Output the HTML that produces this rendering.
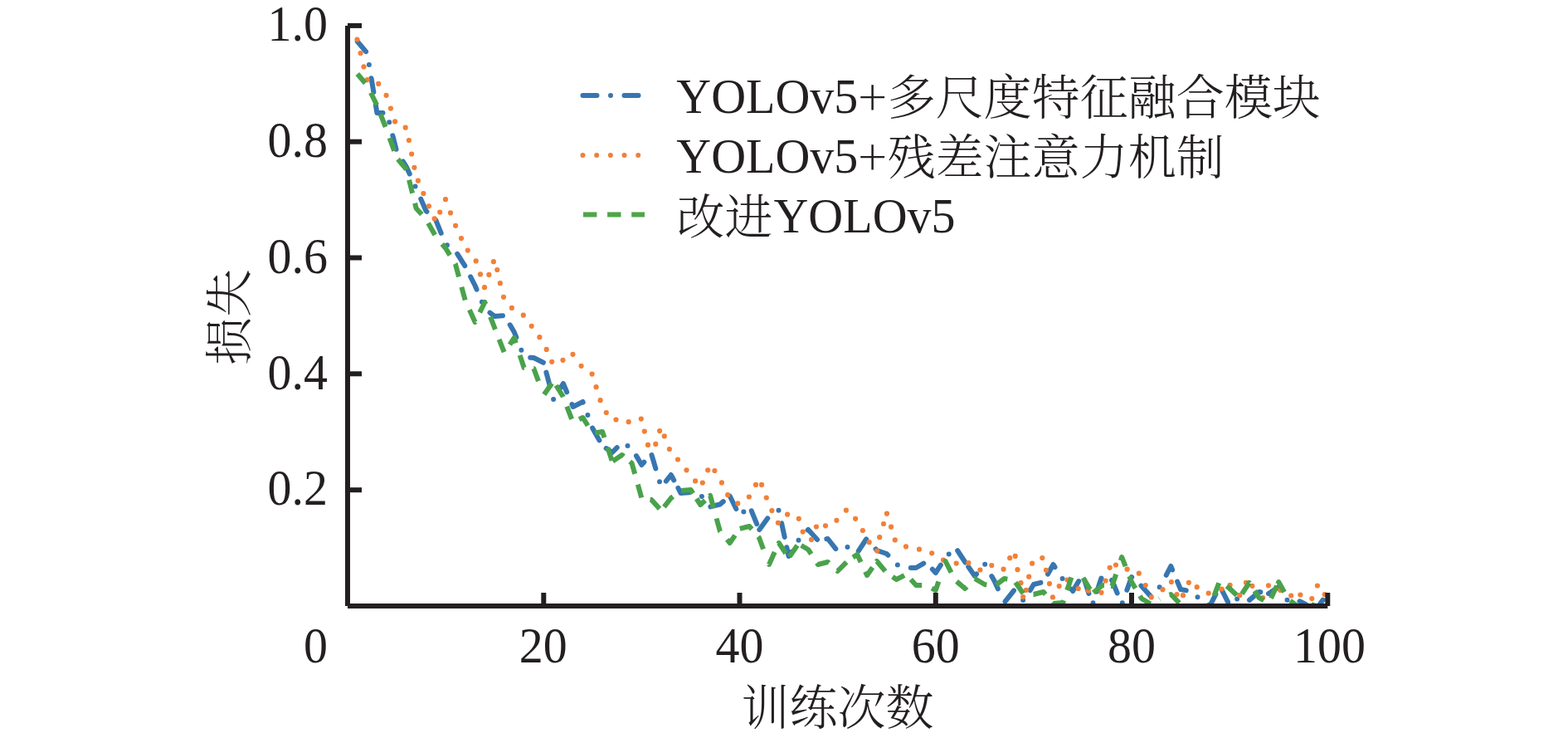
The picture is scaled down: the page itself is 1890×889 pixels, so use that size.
<!DOCTYPE html>
<html><head><meta charset="utf-8"><title>loss</title>
<style>
html,body{margin:0;padding:0;background:#fff;}
body{width:1890px;height:889px;overflow:hidden;}
svg{display:block;}
.t{font-family:"Liberation Serif","Noto Serif CJK SC",serif;font-size:58px;fill:#231f20;}
.c{font-family:"Liberation Serif","Noto Serif CJK SC",serif;font-weight:300;font-size:58px;fill:#231f20;}
.p{font-family:"Noto Serif CJK SC",serif;font-weight:300;font-size:58px;fill:#231f20;}
</style></head>
<body>
<svg width="1890" height="889" viewBox="0 0 1890 889">
<defs><clipPath id="clip"><rect x="419" y="31" width="1181.3" height="699"/></clipPath></defs>
<rect width="1890" height="889" fill="#fff"/>
<!-- DATA -->
<g id="data" fill="none" stroke-width="6" stroke-linejoin="round" clip-path="url(#clip)">
<g stroke="#3776b0" stroke-dasharray="17 16.5 0 16.5 17 16.5" stroke-linecap="round">
<path d="M430.8 50.0 L442.6 64.0 L451.6 118.6" stroke-dashoffset="1.08"/>
<path d="M451.6 118.6 L454.4 136.0 L466.3 136.0 L478.1 182.0 L481.4 187.4" stroke-dashoffset="75.78"/>
<path d="M481.4 187.4 L489.9 201.0 L501.7 227.0 L513.5 254.0 L519.9 260.0" stroke-dashoffset="75.13"/>
<path d="M519.9 260.0 L525.3 265.0 L537.1 294.0 L548.9 302.0 L560.8 321.0 L563.8 326.8" stroke-dashoffset="76.11"/>
<path d="M563.8 326.8 L572.6 344.0 L584.4 372.0 L596.2 381.0 L608.0 380.0 L610.8 384.7" stroke-dashoffset="76.16"/>
<path d="M610.8 384.7 L619.8 400.0 L631.6 430.0 L643.4 431.0 L655.3 437.0 L656.8 442.6" stroke-dashoffset="75.83"/>
<path d="M656.8 442.6 L667.1 481.0 L678.9 462.0 L686.3 479.6" stroke-dashoffset="77.24"/>
<path d="M686.3 479.6 L690.7 490.0 L702.5 484.0 L714.3 516.0 L725.6 536.1" stroke-dashoffset="75.34"/>
<path d="M725.6 536.1 L726.1 537.0 L738.0 545.0 L749.8 533.0 L761.6 540.0 L773.4 560.0 L781.2 551.4" stroke-dashoffset="76.98"/>
<path d="M781.2 551.4 L785.2 547.0 L797.0 587.0 L808.8 572.0 L814.9 583.3" stroke-dashoffset="76.41"/>
<path d="M814.9 583.3 L820.6 594.0 L832.5 593.0 L844.3 596.0 L856.1 610.5 L867.9 607.5 L875.9 600.7" stroke-dashoffset="78.23"/>
<path d="M875.9 600.7 L879.7 597.5 L891.5 621.5 L903.3 609.3 L913.8 635.0" stroke-dashoffset="78.26"/>
<path d="M913.8 635.0 L915.1 638.4 L927.0 622.0 L938.8 614.5 L947.0 653.1" stroke-dashoffset="79.45"/>
<path d="M947.0 653.1 L950.6 670.0 L962.4 651.0 L974.2 638.0 L986.0 651.0 L990.5 650.2" stroke-dashoffset="77.16"/>
<path d="M990.5 650.2 L997.8 649.0 L1009.6 664.0 L1021.5 659.0 L1033.3 666.0 L1045.1 648.0 L1049.9 654.1" stroke-dashoffset="77.64"/>
<path d="M1049.9 654.1 L1056.9 663.0 L1068.7 667.0 L1080.5 680.0 L1092.3 684.0 L1104.2 684.0 L1116.0 677.0 L1118.9 680.2" stroke-dashoffset="74.21"/>
<path d="M1118.9 680.2 L1127.8 690.0 L1139.6 672.0 L1151.4 659.0 L1163.2 677.0 L1165.4 680.2" stroke-dashoffset="76.09"/>
<path d="M1165.4 680.2 L1175.0 694.0 L1186.8 679.0 L1198.7 700.0 L1207.0 718.4" stroke-dashoffset="80.30"/>
<path d="M1207.0 718.4 L1210.5 726.0 L1222.3 711.0 L1234.1 724.0 L1245.9 704.0 L1257.7 701.0 L1259.6 697.7" stroke-dashoffset="73.45"/>
<path d="M1259.6 697.7 L1269.5 680.0 L1281.3 698.0 L1293.2 712.0 L1305.0 692.0 L1316.8 728.5 L1318.5 723.4" stroke-dashoffset="76.44"/>
<path d="M1318.5 723.4 L1328.6 693.0 L1340.4 699.0 L1352.2 728.0 L1364.0 695.0 L1369.8 700.4" stroke-dashoffset="38.65"/>
<path d="M1369.8 700.4 L1375.9 706.0 L1387.7 719.0 L1399.5 705.0 L1411.3 682.0 L1416.2 693.6" stroke-dashoffset="75.74"/>
<path d="M1416.2 693.6 L1423.1 710.0 L1434.9 712.0 L1446.7 722.0 L1458.5 729.5 L1469.0 708.7" stroke-dashoffset="75.96"/>
<path d="M1469.0 708.7 L1470.4 706.0 L1482.2 729.5 L1494.0 719.0 L1505.8 723.0 L1517.6 713.0 L1524.2 714.1" stroke-dashoffset="75.69"/>
<path d="M1524.2 714.1 L1529.4 715.0 L1541.2 707.0 L1553.0 725.0 L1564.9 723.5 L1574.2 728.2" stroke-dashoffset="78.69"/>
<path d="M1574.2 728.2 L1576.7 729.5 L1588.5 731.0 L1600.3 715.0" stroke-dashoffset="75.37"/>
</g>
<g fill="#f28038" stroke="none"><circle cx="430.5" cy="47.5" r="3.1"/><circle cx="434.6" cy="64.0" r="3.1"/><circle cx="438.5" cy="80.4" r="3.1"/><circle cx="442.7" cy="96.1" r="3.1"/><circle cx="456.2" cy="100.9" r="3.1"/><circle cx="465.6" cy="114.8" r="3.1"/><circle cx="470.9" cy="130.6" r="3.1"/><circle cx="476.1" cy="146.4" r="3.1"/><circle cx="488.7" cy="153.7" r="3.1"/><circle cx="492.9" cy="169.0" r="3.1"/><circle cx="496.2" cy="185.5" r="3.1"/><circle cx="499.4" cy="201.8" r="3.1"/><circle cx="503.9" cy="217.7" r="3.1"/><circle cx="510.4" cy="233.1" r="3.1"/><circle cx="517.0" cy="248.3" r="3.1"/><circle cx="523.7" cy="263.4" r="3.1"/><circle cx="530.2" cy="255.6" r="3.1"/><circle cx="537.0" cy="240.2" r="3.1"/><circle cx="543.0" cy="256.4" r="3.1"/><circle cx="549.1" cy="271.8" r="3.1"/><circle cx="556.0" cy="287.1" r="3.1"/><circle cx="563.8" cy="301.6" r="3.1"/><circle cx="573.7" cy="314.4" r="3.1"/><circle cx="579.0" cy="330.4" r="3.1"/><circle cx="584.0" cy="346.2" r="3.1"/><circle cx="589.4" cy="330.9" r="3.1"/><circle cx="594.9" cy="315.2" r="3.1"/><circle cx="599.3" cy="325.0" r="3.1"/><circle cx="602.9" cy="341.2" r="3.1"/><circle cx="607.0" cy="357.8" r="3.1"/><circle cx="616.9" cy="370.9" r="3.1"/><circle cx="630.8" cy="379.7" r="3.1"/><circle cx="640.7" cy="392.8" r="3.1"/><circle cx="650.4" cy="406.2" r="3.1"/><circle cx="658.7" cy="420.9" r="3.1"/><circle cx="665.2" cy="435.8" r="3.1"/><circle cx="678.5" cy="433.8" r="3.1"/><circle cx="690.5" cy="426.8" r="3.1"/><circle cx="700.6" cy="440.8" r="3.1"/><circle cx="713.6" cy="450.6" r="3.1"/><circle cx="718.6" cy="466.2" r="3.1"/><circle cx="723.6" cy="482.2" r="3.1"/><circle cx="730.8" cy="497.0" r="3.1"/><circle cx="742.5" cy="505.5" r="3.1"/><circle cx="757.7" cy="508.2" r="3.1"/><circle cx="772.8" cy="504.6" r="3.1"/><circle cx="776.8" cy="519.6" r="3.1"/><circle cx="781.0" cy="535.9" r="3.1"/><circle cx="790.3" cy="534.9" r="3.1"/><circle cx="795.1" cy="519.1" r="3.1"/><circle cx="800.8" cy="525.4" r="3.1"/><circle cx="806.9" cy="541.0" r="3.1"/><circle cx="817.0" cy="553.5" r="3.1"/><circle cx="827.5" cy="566.3" r="3.1"/><circle cx="838.1" cy="579.4" r="3.1"/><circle cx="846.8" cy="581.5" r="3.1"/><circle cx="853.2" cy="566.3" r="3.1"/><circle cx="861.4" cy="567.0" r="3.1"/><circle cx="870.0" cy="581.4" r="3.1"/><circle cx="877.2" cy="596.2" r="3.1"/><circle cx="889.3" cy="606.4" r="3.1"/><circle cx="902.9" cy="598.5" r="3.1"/><circle cx="911.0" cy="583.9" r="3.1"/><circle cx="918.1" cy="583.9" r="3.1"/><circle cx="923.8" cy="599.5" r="3.1"/><circle cx="930.4" cy="615.1" r="3.1"/><circle cx="937.9" cy="629.8" r="3.1"/><circle cx="949.1" cy="619.7" r="3.1"/><circle cx="962.8" cy="624.8" r="3.1"/><circle cx="967.7" cy="640.6" r="3.1"/><circle cx="978.0" cy="650.1" r="3.1"/><circle cx="983.9" cy="634.5" r="3.1"/><circle cx="995.0" cy="633.3" r="3.1"/><circle cx="1008.4" cy="626.8" r="3.1"/><circle cx="1019.9" cy="614.7" r="3.1"/><circle cx="1031.1" cy="624.8" r="3.1"/><circle cx="1039.9" cy="639.0" r="3.1"/><circle cx="1047.7" cy="653.2" r="3.1"/><circle cx="1057.2" cy="663.5" r="3.1"/><circle cx="1060.2" cy="647.2" r="3.1"/><circle cx="1065.0" cy="631.0" r="3.1"/><circle cx="1069.0" cy="618.7" r="3.1"/><circle cx="1074.1" cy="634.7" r="3.1"/><circle cx="1078.8" cy="650.4" r="3.1"/><circle cx="1092.0" cy="658.4" r="3.1"/><circle cx="1108.0" cy="661.7" r="3.1"/><circle cx="1123.2" cy="666.3" r="3.1"/><circle cx="1137.0" cy="674.7" r="3.1"/><circle cx="1152.7" cy="678.6" r="3.1"/><circle cx="1167.4" cy="678.1" r="3.1"/><circle cx="1181.4" cy="686.5" r="3.1"/><circle cx="1195.3" cy="681.1" r="3.1"/><circle cx="1209.6" cy="685.7" r="3.1"/><circle cx="1217.2" cy="672.2" r="3.1"/><circle cx="1223.7" cy="669.9" r="3.1"/><circle cx="1226.5" cy="686.2" r="3.1"/><circle cx="1230.5" cy="702.2" r="3.1"/><circle cx="1233.2" cy="719.0" r="3.1"/><circle cx="1236.9" cy="710.8" r="3.1"/><circle cx="1240.2" cy="694.7" r="3.1"/><circle cx="1244.1" cy="678.7" r="3.1"/><circle cx="1256.3" cy="672.1" r="3.1"/><circle cx="1260.9" cy="686.8" r="3.1"/><circle cx="1265.0" cy="703.1" r="3.1"/><circle cx="1269.0" cy="719.4" r="3.1"/><circle cx="1276.7" cy="706.1" r="3.1"/><circle cx="1286.5" cy="698.5" r="3.1"/><circle cx="1299.7" cy="709.0" r="3.1"/><circle cx="1311.8" cy="711.6" r="3.1"/><circle cx="1327.5" cy="713.8" r="3.1"/><circle cx="1332.6" cy="699.5" r="3.1"/><circle cx="1337.7" cy="683.8" r="3.1"/><circle cx="1345.0" cy="680.5" r="3.1"/><circle cx="1358.6" cy="685.7" r="3.1"/><circle cx="1372.8" cy="690.7" r="3.1"/><circle cx="1380.8" cy="705.0" r="3.1"/><circle cx="1387.8" cy="719.4" r="3.1"/><circle cx="1401.5" cy="710.2" r="3.1"/><circle cx="1411.9" cy="701.0" r="3.1"/><circle cx="1418.5" cy="716.0" r="3.1"/><circle cx="1426.0" cy="717.2" r="3.1"/><circle cx="1432.9" cy="701.8" r="3.1"/><circle cx="1442.7" cy="707.2" r="3.1"/><circle cx="1456.7" cy="714.6" r="3.1"/><circle cx="1482.6" cy="704.8" r="3.1"/><circle cx="1494.3" cy="717.2" r="3.1"/><circle cx="1501.9" cy="701.8" r="3.1"/><circle cx="1509.4" cy="705.8" r="3.1"/><circle cx="1522.1" cy="720.0" r="3.1"/><circle cx="1529.0" cy="705.3" r="3.1"/><circle cx="1543.3" cy="710.9" r="3.1"/><circle cx="1556.2" cy="717.5" r="3.1"/><circle cx="1567.4" cy="716.5" r="3.1"/><circle cx="1581.3" cy="721.1" r="3.1"/><circle cx="1587.9" cy="705.5" r="3.1"/><circle cx="1596.7" cy="716.0" r="3.1"/><circle cx="1472.5" cy="709.5" r="3.1"/></g>
<g stroke="#4aa24b" stroke-dasharray="16.4 12.7" stroke-linecap="butt">
<path d="M430.8 89.0 L442.6 103.0 L444.1 105.9" stroke-dashoffset="1.65"/>
<path d="M444.1 105.9 L454.4 127.0 L456.4 132.1" stroke-dashoffset="22.55"/>
<path d="M456.4 132.1 L466.3 157.0 L467.2 159.6" stroke-dashoffset="23.07"/>
<path d="M467.2 159.6 L477.0 186.9" stroke-dashoffset="21.99"/>
<path d="M477.0 186.9 L478.1 190.0 L489.9 204.0 L491.5 210.5" stroke-dashoffset="23.56"/>
<path d="M491.5 210.5 L498.6 238.7" stroke-dashoffset="22.63"/>
<path d="M498.6 238.7 L501.7 251.0 L512.8 263.2" stroke-dashoffset="22.89"/>
<path d="M512.8 263.2 L513.5 264.0 L525.3 285.0 L528.4 288.7" stroke-dashoffset="22.61"/>
<path d="M528.4 288.7 L537.1 299.0 L545.5 312.5" stroke-dashoffset="22.17"/>
<path d="M545.5 312.5 L548.9 318.0 L554.7 339.4" stroke-dashoffset="23.08"/>
<path d="M554.7 339.4 L560.8 362.0 L563.3 367.5" stroke-dashoffset="22.60"/>
<path d="M563.3 367.5 L572.6 388.0 L584.4 364.0 L586.6 369.9" stroke-dashoffset="22.78"/>
<path d="M586.6 369.9 L596.2 395.0 L599.3 403.0" stroke-dashoffset="16.62"/>
<path d="M599.3 403.0 L608.0 425.0 L619.8 407.0 L622.8 416.1" stroke-dashoffset="22.79"/>
<path d="M622.8 416.1 L631.6 443.0 L637.6 443.5" stroke-dashoffset="16.75"/>
<path d="M637.6 443.5 L643.4 444.0 L652.3 468.1" stroke-dashoffset="23.52"/>
<path d="M652.3 468.1 L655.3 476.0 L667.1 459.0 L667.8 460.2" stroke-dashoffset="19.72"/>
<path d="M667.8 460.2 L678.9 478.0 L681.1 483.8" stroke-dashoffset="24.33"/>
<path d="M681.1 483.8 L690.7 509.0 L702.5 503.0 L712.3 518.7" stroke-dashoffset="22.90"/>
<path d="M712.3 518.7 L714.3 522.0 L726.1 520.0 L737.9 555.7" stroke-dashoffset="22.19"/>
<path d="M737.9 555.7 L738.0 556.0 L749.8 548.0 L755.6 552.9" stroke-dashoffset="28.14"/>
<path d="M755.6 552.9 L761.6 558.0 L767.0 577.1" stroke-dashoffset="24.28"/>
<path d="M767.0 577.1 L773.4 600.0 L778.3 600.8" stroke-dashoffset="22.31"/>
<path d="M778.3 600.8 L785.2 602.0 L797.0 615.0 L797.9 613.9" stroke-dashoffset="23.80"/>
<path d="M797.9 613.9 L808.8 600.0 L820.6 591.0 L832.5 590.0 L835.5 594.6" stroke-dashoffset="24.90"/>
<path d="M835.5 594.6 L844.3 608.0 L852.6 600.3" stroke-dashoffset="21.74"/>
<path d="M852.6 600.3 L856.1 597.0 L861.8 618.0" stroke-dashoffset="25.48"/>
<path d="M861.8 618.0 L867.9 640.0 L879.7 654.0 L886.1 644.7" stroke-dashoffset="22.37"/>
<path d="M886.1 644.7 L891.5 637.0 L903.3 634.0 L910.1 642.0" stroke-dashoffset="19.40"/>
<path d="M910.1 642.0 L915.1 648.0 L923.5 670.8" stroke-dashoffset="23.25"/>
<path d="M923.5 670.8 L927.0 680.0 L936.0 660.0" stroke-dashoffset="19.27"/>
<path d="M936.0 660.0 L938.8 654.0 L949.3 670.1" stroke-dashoffset="23.72"/>
<path d="M949.3 670.1 L950.6 672.0 L962.4 655.0 L963.1 655.4" stroke-dashoffset="24.91"/>
<path d="M963.1 655.4 L974.2 662.0 L981.3 672.8" stroke-dashoffset="26.05"/>
<path d="M981.3 672.8 L986.0 680.0 L997.8 677.0 L1004.0 682.7" stroke-dashoffset="22.86"/>
<path d="M1004.0 682.7 L1009.6 688.0 L1021.5 676.0 L1024.1 674.2" stroke-dashoffset="22.55"/>
<path d="M1024.1 674.2 L1033.3 668.0 L1045.1 693.0 L1051.8 683.4" stroke-dashoffset="24.30"/>
<path d="M1051.8 683.4 L1056.9 676.0 L1068.7 690.0 L1071.2 691.7" stroke-dashoffset="20.71"/>
<path d="M1071.2 691.7 L1080.5 698.0 L1092.3 692.0 L1094.2 694.1" stroke-dashoffset="23.50"/>
<path d="M1094.2 694.1 L1104.2 705.0 L1116.0 705.0 L1127.8 711.0 L1135.3 688.7" stroke-dashoffset="23.70"/>
<path d="M1135.3 688.7 L1139.6 676.0 L1151.4 699.0 L1163.2 709.0 L1170.2 702.0" stroke-dashoffset="16.77"/>
<path d="M1170.2 702.0 L1175.0 697.0 L1186.8 704.0 L1195.3 705.4" stroke-dashoffset="22.28"/>
<path d="M1195.3 705.4 L1198.7 706.0 L1210.5 697.0 L1219.8 698.6" stroke-dashoffset="23.29"/>
<path d="M1219.8 698.6 L1222.3 699.0 L1234.1 716.0 L1239.2 716.0" stroke-dashoffset="23.57"/>
<path d="M1239.2 716.0 L1245.9 716.0 L1257.7 713.0 L1269.5 727.0 L1281.3 726.0 L1282.4 722.7" stroke-dashoffset="22.74"/>
<path d="M1282.4 722.7 L1293.2 690.0 L1296.9 691.6" stroke-dashoffset="16.80"/>
<path d="M1296.9 691.6 L1305.0 695.0 L1315.7 713.1" stroke-dashoffset="19.22"/>
<path d="M1315.7 713.1 L1316.8 715.0 L1328.6 705.0 L1335.0 705.5" stroke-dashoffset="25.47"/>
<path d="M1335.0 705.5 L1340.4 706.0 L1349.2 680.0" stroke-dashoffset="24.99"/>
<path d="M1349.2 680.0 L1352.2 671.0 L1364.0 701.0 L1371.3 713.2" stroke-dashoffset="23.93"/>
<path d="M1371.3 713.2 L1375.9 721.0 L1387.7 728.0 L1397.5 721.3" stroke-dashoffset="23.77"/>
<path d="M1397.5 721.3 L1399.5 720.0 L1411.3 716.0 L1423.1 728.0 L1434.9 731.0 L1446.7 731.0 L1458.5 731.0 L1459.2 729.1" stroke-dashoffset="16.12"/>
<path d="M1459.2 729.1 L1470.4 699.0 L1473.1 701.4" stroke-dashoffset="16.77"/>
<path d="M1473.1 701.4 L1482.2 709.0 L1494.0 720.0 L1494.3 719.5" stroke-dashoffset="22.00"/>
<path d="M1494.3 719.5 L1505.8 702.0 L1509.0 706.9" stroke-dashoffset="24.20"/>
<path d="M1509.0 706.9 L1517.6 720.0 L1529.4 726.0 L1539.1 705.6" stroke-dashoffset="23.31"/>
<path d="M1539.1 705.6 L1541.2 701.0 L1553.0 722.0 L1564.9 731.0 L1576.7 726.5 L1588.5 731.0 L1600.3 731.0" stroke-dashoffset="26.41"/>
</g>
</g>
<!-- axes -->
<g stroke="#231f20" stroke-width="6" fill="none">
<line x1="419" y1="31" x2="419" y2="730"/>
<line x1="419" y1="730" x2="1600.3" y2="730"/>
<line x1="419" y1="30.9" x2="436" y2="30.9"/>
<line x1="419" y1="170.7" x2="436" y2="170.7"/>
<line x1="419" y1="310.5" x2="436" y2="310.5"/>
<line x1="419" y1="450.3" x2="436" y2="450.3"/>
<line x1="419" y1="590.2" x2="436" y2="590.2"/>
<line x1="655.3" y1="730" x2="655.3" y2="714"/>
<line x1="891.5" y1="730" x2="891.5" y2="714"/>
<line x1="1127.8" y1="730" x2="1127.8" y2="714"/>
<line x1="1364" y1="730" x2="1364" y2="714"/>
<line x1="1600.3" y1="730" x2="1600.3" y2="714"/>
</g>
<!-- y tick labels -->
<g class="t" text-anchor="end">
<text transform="translate(395,49.4) scale(1,1.055)">1.0</text>
<text transform="translate(395,189.1) scale(1,1.055)">0.8</text>
<text transform="translate(395,328.8) scale(1,1.055)">0.6</text>
<text transform="translate(395,468.5) scale(1,1.055)">0.4</text>
<text transform="translate(395,608.2) scale(1,1.055)">0.2</text>
</g>
<g class="t" text-anchor="middle">
<text transform="translate(380.5,798.3) scale(1,1.055)">0</text>
<text transform="translate(654.8,798.3) scale(1,1.055)">20</text>
<text transform="translate(891.5,798.3) scale(1,1.055)">40</text>
<text transform="translate(1127.8,798.3) scale(1,1.055)">60</text>
<text transform="translate(1364,798.3) scale(1,1.055)">80</text>
<text transform="translate(1602.5,798.3) scale(1,1.055)">100</text>
</g>
<text class="c" x="1009.5" y="873" text-anchor="middle">训练次数</text>
<text class="c" transform="translate(297,382) rotate(-90)" text-anchor="middle">损失</text>
<!-- legend -->
<g fill="none" stroke-width="6">
<path d="M702.5 115.1H769.5" stroke="#3776b0" stroke-dasharray="17 16.5 0 16.5" stroke-linecap="round"/>
<path d="M702.5 187H769.5" stroke="#f07f3a" stroke-dasharray="0 16.68" stroke-linecap="round"/>
<path d="M703 258.5H777" stroke="#4ea549" stroke-dasharray="16.4 12.7"/>
</g>
<g class="t">
<text transform="translate(815.3,135.8) scale(1,1.03)">YOLOv5</text>
<text transform="translate(815.3,207.8) scale(1,1.03)">YOLOv5</text>
<text transform="translate(932.5,280) scale(1,1.03)">YOLOv5</text>
</g>
<g class="c">
<text class="p" x="1035.1" y="137.8">+</text>
<text x="1069.8" y="137.8">多尺度特征融合模块</text>
<text class="p" x="1035.1" y="209.8">+</text>
<text x="1069.8" y="209.8">残差注意力机制</text>
<text x="815.5" y="282">改进</text>
</g>
</svg>
</body></html>
